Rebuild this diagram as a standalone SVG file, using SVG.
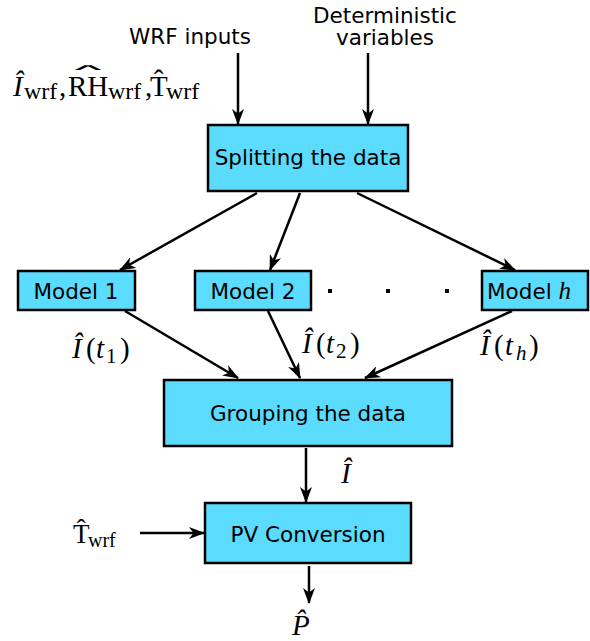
<svg xmlns="http://www.w3.org/2000/svg" width="590" height="641" viewBox="0 0 590 641">
  <style>
    .box { fill: #5bdbfd; stroke: #000; stroke-width: 2.5; }
    .lbl { font-family: "DejaVu Sans", sans-serif; font-size: 21.5px; fill: #000; text-anchor: middle; }
    .edge { fill: none; stroke: #000; stroke-width: 2.5; marker-end: url(#arrow); }
    .m { font-family: "Liberation Serif", "DejaVu Serif", serif; font-size: 29px; fill: #000; }
    .it { font-style: italic; }
    .sub { font-size: 21px; }
  </style>
  <defs>
    <marker id="arrow" viewBox="0 0 16 12" refX="15" refY="6" markerWidth="16" markerHeight="12" markerUnits="userSpaceOnUse" orient="auto">
      <path d="M0,0 L16,6 L0,12 L4.5,6 z" fill="#000"/>
    </marker>
  </defs>

  <!-- input labels -->
  <text class="lbl" x="190" y="44">WRF inputs</text>
  <text class="lbl" x="385" y="23">Deterministic</text>
  <text class="lbl" x="385" y="45">variables</text>

  <!-- WRF forecast variables -->
  <g id="wrf-vars">
    <text class="m" y="96"><tspan class="it" x="13">Î</tspan><tspan font-size="24" x="24" dy="3">wrf</tspan><tspan x="59" dy="-3">,</tspan><tspan x="68">RH</tspan><tspan font-size="24" x="108" dy="3">wrf</tspan><tspan x="145" dy="-3">,</tspan><tspan x="150">T̂</tspan><tspan font-size="24" x="166" dy="3">wrf</tspan></text>
    <!-- wide hat over RH -->
    <text font-family="DejaVu Sans, sans-serif" font-size="8" x="88" y="70" text-anchor="middle" transform="translate(88 0) scale(7 1) translate(-88 0)">∧</text>
  </g>

  <!-- nodes -->
  <g id="split">
    <rect class="box" x="208" y="125" width="200" height="66"/>
    <text class="lbl" x="308" y="165">Splitting the data</text>
  </g>
  <g id="model1">
    <rect class="box" x="18" y="271" width="117" height="39"/>
    <text class="lbl" x="76" y="299">Model 1</text>
  </g>
  <g id="model2">
    <rect class="box" x="195" y="271" width="116" height="39"/>
    <text class="lbl" x="253" y="299">Model 2</text>
  </g>
  <g id="modelh">
    <rect class="box" x="482" y="271" width="106" height="39"/>
    <text class="lbl" x="529" y="299">Model <tspan font-family="Liberation Serif, serif" font-style="italic" font-size="25">h</tspan></text>
  </g>
  <g id="dots">
    <rect x="328" y="289" width="4" height="4" fill="#000"/>
    <rect x="386" y="289" width="4" height="4" fill="#000"/>
    <rect x="445" y="289" width="4" height="4" fill="#000"/>
  </g>
  <g id="group">
    <rect class="box" x="164" y="380" width="288" height="66"/>
    <text class="lbl" x="308" y="421">Grouping the data</text>
  </g>
  <g id="pv">
    <rect class="box" x="205" y="503" width="206" height="60"/>
    <text class="lbl" x="308" y="542">PV Conversion</text>
  </g>

  <!-- connectors -->
  <g id="connectors">
    <path class="edge" d="M238,53 L238,124"/>
    <path class="edge" d="M368,53 L368,124"/>
    <path class="edge" d="M257,193 L120,270"/>
    <path class="edge" d="M300,193 L270,270"/>
    <path class="edge" d="M357,193 L515,270"/>
    <path class="edge" d="M125,311 L238,378"/>
    <path class="edge" d="M268,311 L300,378"/>
    <path class="edge" d="M512,311 L365,378"/>
    <path class="edge" d="M306,448 L306,502"/>
    <path class="edge" d="M140,533 L204,533"/>
    <path class="edge" d="M309,566 L309,603"/>
  </g>

  <!-- edge labels -->
  <g id="edge-labels">
    <text class="m" y="358"><tspan class="it" x="72">Î</tspan><tspan x="86">(</tspan><tspan class="it" x="96">t</tspan><tspan class="sub" x="106" dy="5">1</tspan><tspan x="120" dy="-5">)</tspan></text>
    <text class="m" y="353"><tspan class="it" x="302">Î</tspan><tspan x="316">(</tspan><tspan class="it" x="326">t</tspan><tspan class="sub" x="336" dy="5">2</tspan><tspan x="350" dy="-5">)</tspan></text>
    <text class="m" y="355"><tspan class="it" x="480">Î</tspan><tspan x="494">(</tspan><tspan class="it" x="505">t</tspan><tspan class="sub it" x="516" dy="5">h</tspan><tspan x="529" dy="-5">)</tspan></text>
    <text class="m it" font-size="23" x="341" y="483">Î</text>
    <text class="m" y="543"><tspan font-size="27" x="73">T̂</tspan><tspan font-size="20" x="88" dy="4">wrf</tspan></text>
    <text class="m it" x="292" y="635">P̂</text>
  </g>
</svg>
